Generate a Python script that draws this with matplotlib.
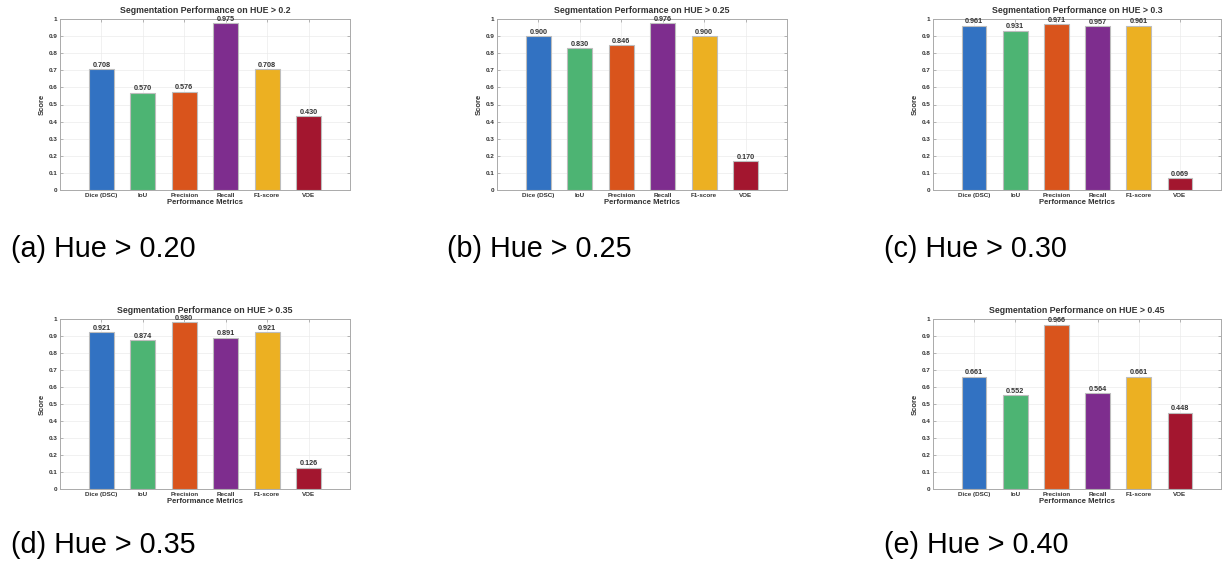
import matplotlib
matplotlib.use("Agg")
import matplotlib.pyplot as plt
import numpy as np

plt.rcParams['font.family'] = ['Liberation Sans', 'DejaVu Sans']

metrics = ["Dice (DSC)", "IoU", "Precision", "Recall", "F1-score", "VOE"]
colors = ["#3272C2", "#4DB473", "#D9541C", "#7E2D8E", "#ECB022", "#A3162F"]

titles = ["Segmentation Performance on HUE > 0.2",
          "Segmentation Performance on HUE > 0.25",
          "Segmentation Performance on HUE > 0.3",
          "Segmentation Performance on HUE > 0.35",
          "Segmentation Performance on HUE > 0.45"]
captions = ["(a) Hue > 0.20", "(b) Hue > 0.25", "(c) Hue > 0.30",
            "(d) Hue > 0.35", "(e) Hue > 0.40"]

vals_a = [0.708, 0.570, 0.576, 0.975, 0.708, 0.430]
vals_b = [0.900, 0.830, 0.846, 0.976, 0.900, 0.170]
vals_c = [0.961, 0.931, 0.971, 0.957, 0.961, 0.069]
vals_d = [0.921, 0.874, 0.980, 0.891, 0.921, 0.126]
vals_e = [0.661, 0.552, 0.966, 0.564, 0.661, 0.448]
all_vals = [vals_a, vals_b, vals_c, vals_d, vals_e]

W, H = 1222, 562
fig = plt.figure(figsize=(W / 100, H / 100), dpi=100)

# (left, right, top, bottom) in pixels
boxes = [(60, 350, 19, 190), (497, 787, 19, 190), (933, 1221, 19, 190),
         (60, 350, 319, 489), (933, 1221, 319, 489)]
cap_pos = [(11, 249), (447, 249), (884, 249), (11, 545), (884, 545)]

ytick_vals = [0, 0.1, 0.2, 0.3, 0.4, 0.5, 0.6, 0.7, 0.8, 0.9, 1]
ytick_labels = ["0", "0.1", "0.2", "0.3", "0.4", "0.5", "0.6", "0.7", "0.8", "0.9", "1"]

for vals, title, (l, r, t, b) in zip(all_vals, titles, boxes):
    ax = fig.add_axes([l / W, 1 - b / H, (r - l) / W, (b - t) / H])
    x = np.arange(1, len(metrics) + 1)
    ax.bar(x, vals, width=0.6, color=colors, edgecolor="#BDBDBD", linewidth=0.8, zorder=3)
    for xi, v in zip(x, vals):
        ax.text(xi, v + 0.002, f"{v:.3f}", ha="center", va="bottom",
                fontsize=5.2, fontweight="bold", color="#333333", zorder=4)
    ax.set_xlim(0, 7)
    ax.set_ylim(0, 1)
    ax.set_xticks(x)
    ax.set_xticklabels(metrics, fontsize=4.5, fontweight="bold", color="#333333")
    ax.set_yticks(ytick_vals)
    ax.set_yticklabels(ytick_labels, fontsize=4.6, fontweight="bold", color="#333333")
    ax.tick_params(axis="both", direction="in", length=2, width=0.5, color="#999999",
                   pad=2, top=True, right=True)
    ax.grid(True, color="#EBEBEB", linewidth=0.5, zorder=0)
    for s in ax.spines.values():
        s.set_color("#AAAAAA")
        s.set_linewidth(0.7)
    ax.set_title(title, fontsize=6.3, fontweight="bold", color="#333333", pad=4)
    ax.set_xlabel("Performance Metrics", fontsize=5.5, fontweight="bold", color="#333333", labelpad=1)
    ax.set_ylabel("Score", fontsize=5.5, fontweight="bold", color="#333333", labelpad=2)

for cap, (cx, cy) in zip(captions, cap_pos):
    fig.text(cx / W, 1 - cy / H, cap, fontsize=20.7, ha="left", va="center", color="black")

fig.savefig("out.png", dpi=100)
